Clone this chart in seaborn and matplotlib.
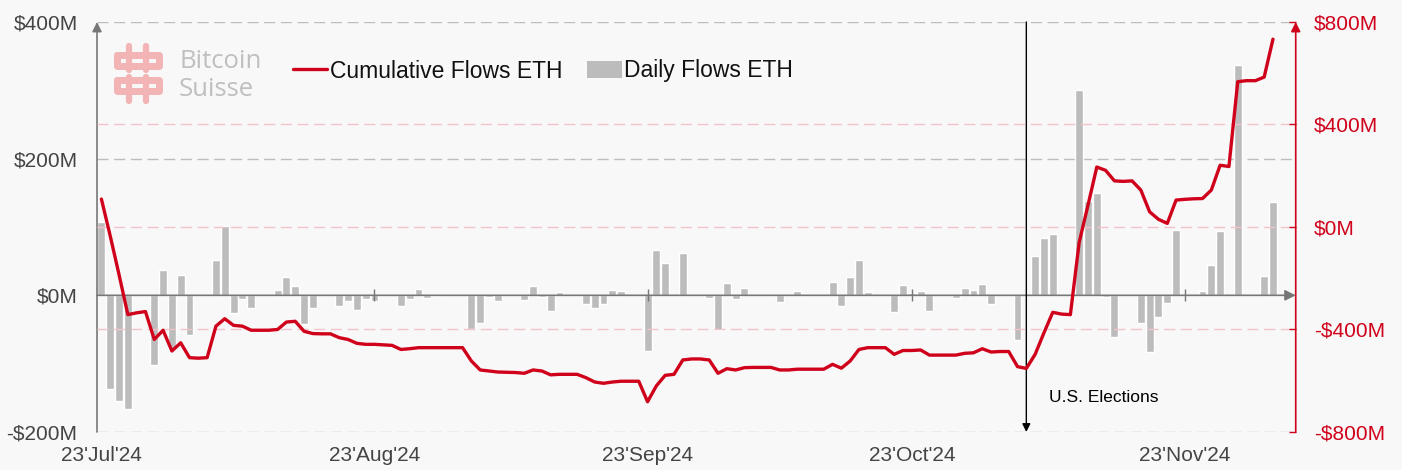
import pandas as pd
import matplotlib
matplotlib.use('Agg')
import matplotlib.pyplot as plt
import seaborn as sns
from matplotlib.lines import Line2D
from matplotlib.patches import Patch

# ---- data ($M) ----
# daily ETF flows, US trading days 23 Jul -> 3 Dec 2024
flow_start, flow_end = '2024-07-23', '2024-12-03'
market_holidays = ['2024-09-02', '2024-11-28']
flow_values = [
    107, -137, -155, -166, -102, 37, -79,
    30, -58, 52, 101, -26, -5, -19, 8, 27, 14, -42, -18, -16, -9, -21, -5, -8, -16, -5, 9, -4, -1,
    -50, -40, -3, -8, -7, 14, -3, -23, 5, -12, -18, -13, 8, 6, -82, 66, 47, 1, 62, -4,
    -51, 18, -6, 10, 0, -10, 0, 6, 2, 20, -15, 27, 52, 5, -24, 15, 4, 6, -23, -4, 11, 8, 17,
    -13, -66, 0, 57, 84, 90, 300, 138, 150, -3, -61, -40, -83, -32, -11, 95, 6, 44, 94, 337,
    28, 137,
]

# cumulative flows, one value per calendar day 23 Jul -> 3 Dec 2024
cum_jul = [109, -35, -186, -342, -335, -330, -439, -403, -484]
cum_aug = [-452, -510, -512, -510, -387, -358, -384, -387, -403, -403,
           -403, -400, -371, -368, -407, -416, -417, -417, -432, -439,
           -454, -458, -458, -460, -462, -478, -475, -471, -471, -471, -471]
cum_sep = [-471, -471, -523, -558, -562, -566, -567, -568, -571, -558,
           -562, -577, -575, -575, -575, -588, -605, -610, -605, -602,
           -602, -602, -682, -620, -579, -575, -519, -515, -515, -519]
cum_oct = [-571, -553, -558, -549, -548, -548, -548, -558, -558, -555,
           -555, -555, -555, -536, -551, -523, -478, -471, -471, -471,
           -497, -482, -482, -480, -500, -500, -500, -500, -493, -491, -475]
cum_nov = [-488, -486, -486, -545, -552, -497, -413, -333, -340, -342,
           -60, 85, 234, 221, 180, 178, 180, 144, 59, 30,
           14, 105, 108, 110, 111, 144, 241, 236, 567, 571]
cum_dec = [571, 585, 733]

tick_dates = ['2024-07-23', '2024-08-23', '2024-09-23', '2024-10-23', '2024-11-23']
tick_labels = ["23'Jul'24", "23'Aug'24", "23'Sep'24", "23'Oct'24", "23'Nov'24"]
left_ticks = [-200, 0, 200, 400]
left_labels = ['-$200M', '$0M', '$200M', '$400M']
right_ticks = [-800, -400, 0, 400, 800]
right_labels = ['-$800M', '-$400M', '$0M', '$400M', '$800M']
election_date = '2024-11-05'

# ---- frames ----
flows = pd.DataFrame({
    'date': pd.bdate_range(flow_start, flow_end, freq='C', holidays=market_holidays),
    'flow': flow_values,
})
cum = pd.DataFrame({
    'date': pd.date_range(flow_start, flow_end),
    'cum': cum_jul + cum_aug + cum_sep + cum_oct + cum_nov + cum_dec,
})

RED = '#D0021B'
BAR = '#bcbcbc'
BG = '#f8f8f8'
TXT = '#444444'

sns.set_theme(style='white')
plt.rcParams['font.family'] = ['Liberation Sans', 'DejaVu Sans']

fig = plt.figure(figsize=(14.02, 4.70), dpi=100, facecolor=BG)
ax = fig.add_axes([0.0692, 0.0809, 0.8550, 0.8723])
ax.set_facecolor(BG)
ax2 = ax.twinx()

x0 = pd.Timestamp('2024-07-22 12:00')
x1 = pd.Timestamp('2024-12-05 14:00')

# bars
ax.bar(flows['date'], flows['flow'], width=0.9, color=BAR, zorder=2)
ax.set_xlim(x0, x1)
ax.set_ylim(-200, 400)

# grid on the left scale (0 is the axis line itself)
for v in left_ticks:
    if v != 0:
        ax.axhline(v, color='#bdbdbd', lw=1, ls=(0, (8, 4)), zorder=0)

# zero line with arrow + tick marks
ax.annotate('', xy=(x1, 0), xytext=(x0, 0),
            arrowprops=dict(arrowstyle='-|>', color='#777777', lw=1.2,
                            mutation_scale=16, shrinkA=0, shrinkB=0), zorder=3)
ax.plot(pd.to_datetime(tick_dates[1:]), [0] * len(tick_dates[1:]), ls='none',
        marker='|', ms=9, mew=1, color='#777777', zorder=3)

# left axis arrow
ax.annotate('', xy=(0, 1.0), xytext=(0, 0), xycoords='axes fraction',
            arrowprops=dict(arrowstyle='-|>', color='#777777', lw=1.2,
                            mutation_scale=14, shrinkA=0, shrinkB=0))

# election marker
ax.annotate('', xy=(pd.Timestamp(election_date), -200),
            xytext=(pd.Timestamp(election_date), 400),
            arrowprops=dict(arrowstyle='-|>', color='black', lw=1,
                            mutation_scale=12, shrinkA=0, shrinkB=0), zorder=4)
ax.annotate('U.S. Elections', xy=(pd.Timestamp(election_date), -150),
            xytext=(16, 0), textcoords='offset points', fontsize=12.5,
            color='black', va='center', ha='left')

ax.set_yticks(left_ticks, left_labels)
ax.set_xticks(pd.to_datetime(tick_dates), tick_labels)
ax.tick_params(axis='y', length=0, pad=14, labelcolor=TXT, labelsize=15)
ax.tick_params(axis='x', length=0, pad=10, labelcolor=TXT, labelsize=15)
for s in ax.spines.values():
    s.set_visible(False)
ax.set_xlabel('')
ax.set_ylabel('')

# cumulative line on the right scale
for v in right_ticks:
    if abs(v) != 800:
        ax2.axhline(v, color='#f3c3cc', lw=1, ls=(0, (8, 4)), zorder=0)
sns.lineplot(data=cum, x='date', y='cum', ax=ax2, color=RED, lw=2.4,
             solid_joinstyle='round', solid_capstyle='round', zorder=5)
ax2.set_ylim(-800, 800)
ax2.set_xlim(x0, x1)
ax2.set_yticks(right_ticks, right_labels)
ax2.tick_params(axis='y', direction='in', length=5, width=1, color=RED,
                labelcolor=RED, pad=13, labelsize=15)
for s in ax2.spines.values():
    s.set_visible(False)
ax2.annotate('', xy=(1, 1.0), xytext=(1, 0), xycoords='axes fraction',
             arrowprops=dict(arrowstyle='-|>', color=RED, lw=1.2,
                             mutation_scale=14, shrinkA=0, shrinkB=0))
ax2.set_xlabel('')
ax2.set_ylabel('')

# legend
handles = [Line2D([], [], color=RED, lw=2.4),
           Patch(facecolor=BAR, edgecolor='none')]
leg = fig.legend(handles, ['Cumulative Flows ETH', 'Daily Flows ETH'],
                 loc='center left', bbox_to_anchor=(293 / 1402, 1 - 71 / 470),
                 ncol=2, frameon=False, fontsize=16.5, handlelength=1.5,
                 handletextpad=0.1, columnspacing=1.1, borderpad=0,
                 borderaxespad=0)
for t in leg.get_texts():
    t.set_color('#111111')

# Bitcoin Suisse watermark
PINK = '#f2b4b4'
def fx(px):
    return px / 1402
def fy(py):
    return 1 - py / 470
for top in (55, 80):
    xs = [117, 159, 159, 117, 117]
    ys = [top, top, top + 11, top + 11, top]
    fig.add_artist(Line2D([fx(a) for a in xs], [fy(b) for b in ys],
                          color=PINK, lw=5, solid_joinstyle='round'))
for xv in (129, 146):
    fig.add_artist(Line2D([fx(xv), fx(xv)], [fy(46), fy(70)], color=PINK, lw=4.5))
    fig.add_artist(Line2D([fx(xv), fx(xv)], [fy(77), fy(101)], color=PINK, lw=4.5))
fig.text(fx(179), fy(62), 'Bitcoin', fontsize=18.5, color='#bfbfbf', va='center',
         family=['Open Sans', 'DejaVu Sans'])
fig.text(fx(179), fy(90), 'Suisse', fontsize=18.5, color='#bfbfbf', va='center',
         family=['Open Sans', 'DejaVu Sans'])

plt.savefig('out.png', dpi=100, facecolor=fig.get_facecolor())
print("saved out.png")
